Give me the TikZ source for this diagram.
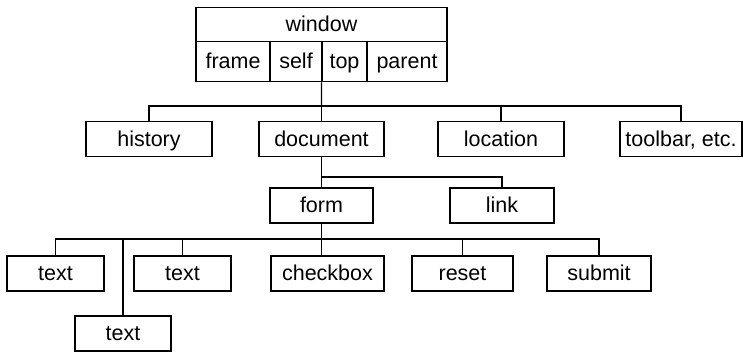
\documentclass[tikz,border=0pt]{standalone}
\usepackage{fontspec}
\setmainfont{Liberation Sans}
\begin{document}
\begin{tikzpicture}[x=1pt,y=-1pt,
  box/.style={draw,line width=1.2pt,inner sep=0pt,font=\fontsize{21.5}{23}\selectfont,
    text height=18pt,text depth=4pt,minimum height=35pt},
  conn/.style={line width=1.2pt}]
\useasboundingbox (0,0) rectangle (743,351);
% window
\node[box,minimum width=251pt,minimum height=34.5pt] (window) at (321.5,24.5) {window};
\node[box,minimum width=74pt,minimum height=40pt] (frame) at (233,61.8) {frame};
\node[box,minimum width=52pt,minimum height=40pt] (self) at (296,61.8) {self};
\node[box,minimum width=45pt,minimum height=40pt] (top) at (344.5,61.8) {top};
\node[box,minimum width=80pt,minimum height=40pt] (parent) at (407,61.8) {parent};
% level 1
\node[box,minimum width=126pt] (history) at (149,139) {history};
\node[box,minimum width=125pt] (document) at (321.5,139) {document};
\node[box,minimum width=126pt] (location) at (501,139) {location};
\node[box,minimum width=122pt] (toolbar) at (681,139) {toolbar, etc.};
% level 2
\node[box,minimum width=103pt] (form) at (321.5,205.5) {form};
\node[box,minimum width=104pt] (link) at (502,205.5) {link};
% level 3
\node[box,minimum width=97pt] (text1) at (55.5,273.5) {text};
\node[box,minimum width=96pt] (text2) at (123,333.5) {text};
\node[box,minimum width=97pt] (text3) at (182.5,273.5) {text};
\node[box,minimum width=113pt] (checkbox) at (327.5,273.5) {checkbox};
\node[box,minimum width=101pt] (reset) at (462.5,273.5) {reset};
\node[box,minimum width=104pt] (submit) at (599,273.5) {submit};
% junctions
\coordinate (j1) at (321.5,106);
\coordinate (j2) at (321.5,177);
\coordinate (j3) at (321.5,239);
% connectors
\draw[conn] (top.south west) -- (j1);
\draw[conn] (history.north) |- (j1) -| (toolbar.north);
\draw[conn] (document.north) -- (j1);
\draw[conn] (location.north) -- (location.north |- j1);
\draw[conn] (document.south) -- (form.north);
\draw[conn] (j2) -| (link.north);
\draw[conn] (form.south) -- (j3);
\draw[conn] (text1.north) |- (j3) -| (submit.north);
\draw[conn] (text2.north) -- (text2.north |- j3);
\draw[conn] (text3.north) -- (text3.north |- j3);
\draw[conn] (j3) -- (j3 |- checkbox.north);
\draw[conn] (reset.north) -- (reset.north |- j3);
\end{tikzpicture}
\end{document}
